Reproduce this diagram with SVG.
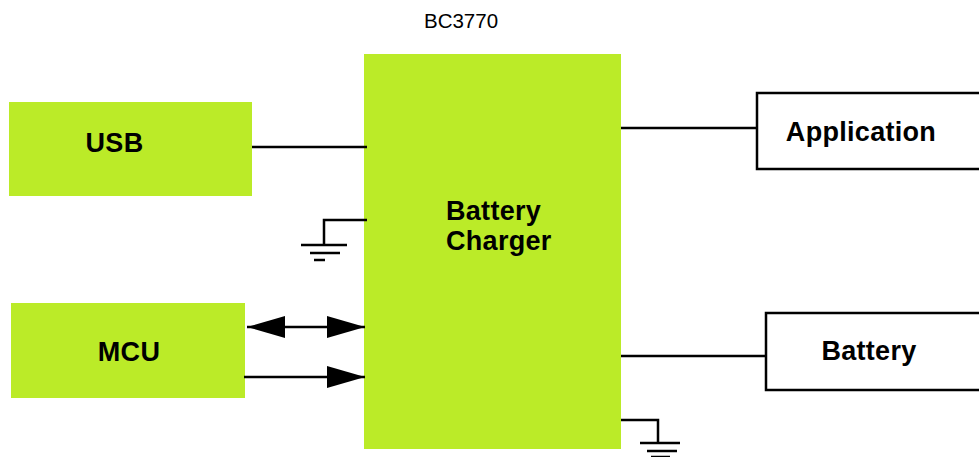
<svg xmlns="http://www.w3.org/2000/svg" width="979" height="457" viewBox="0 0 979 457">
<style>
.g{fill:#bbeb28}
.w{fill:#fff;stroke:#000;stroke-width:2.5}
.t{font-family:"Liberation Sans",Arial,sans-serif;font-weight:bold;font-size:27px;fill:#000;text-anchor:middle;letter-spacing:0.3px}
.s{text-anchor:start}
.c{stroke:#000;stroke-width:2.5;fill:none}
</style>
<defs>
<marker id="ah" viewBox="0 0 38 22" refX="38" refY="11" markerWidth="38" markerHeight="22" markerUnits="userSpaceOnUse" orient="auto-start-reverse">
<path d="M0,0 L38,11 L0,22 Z" fill="#000"/>
</marker>
</defs>
<rect width="979" height="457" fill="#fff"/>
<text x="461" y="28" font-family="Liberation Sans,Arial,sans-serif" font-size="20.5" text-anchor="middle">BC3770</text>
<g id="charger"><rect class="g" x="364" y="54" width="257" height="395"/><text class="t s" x="446" y="220">Battery</text><text class="t s" x="446" y="250">Charger</text></g>
<g id="usb"><rect class="g" x="9" y="102" width="243" height="94"/><text class="t" x="114.5" y="152">USB</text></g>
<g id="mcu"><rect class="g" x="11" y="303" width="234" height="95"/><text class="t" x="129" y="361">MCU</text></g>
<g id="application"><path class="w" d="M990,93 H757 V169 H990"/><text class="t" x="861" y="141">Application</text></g>
<g id="battery"><path class="w" d="M990,313 H766 V390 H990"/><text class="t" x="869" y="360">Battery</text></g>
<g id="connectors">
<line class="c" x1="252" y1="147" x2="367" y2="147"/>
<line class="c" x1="621" y1="128" x2="757" y2="128"/>
<line class="c" x1="621" y1="356" x2="766" y2="356"/>
<path class="c" d="M367,220 H324 V245"/>
<line class="c" x1="301" y1="245" x2="347" y2="245"/>
<line class="c" x1="310" y1="253" x2="340" y2="253"/>
<line class="c" x1="314" y1="260" x2="325" y2="260"/>
<path class="c" d="M621,420 H658 V443"/>
<line class="c" x1="640" y1="443" x2="680" y2="443"/>
<line class="c" x1="647" y1="451" x2="677" y2="451"/>
<line class="c" x1="651" y1="457" x2="670" y2="457"/>
<line class="c" x1="247" y1="327" x2="365" y2="327" marker-start="url(#ah)" marker-end="url(#ah)"/>
<line class="c" x1="244" y1="377" x2="365" y2="377" marker-end="url(#ah)"/>
</g>
</svg>
